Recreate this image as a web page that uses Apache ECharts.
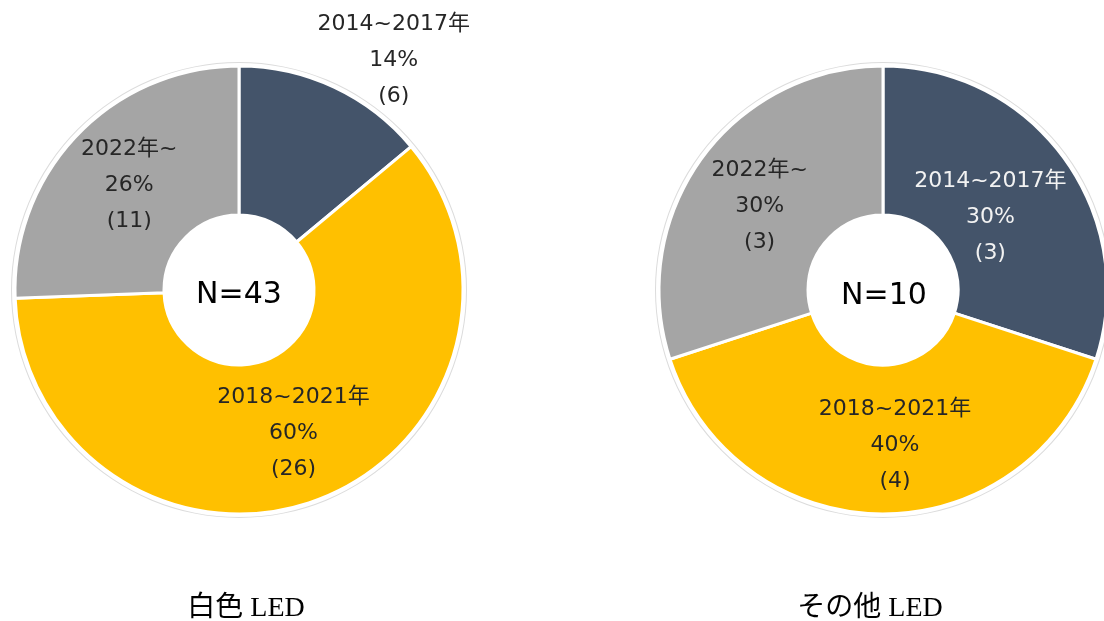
<!DOCTYPE html>
<html>
<head>
<meta charset="utf-8">
<script src="https://cdn.jsdelivr.net/npm/echarts@6/dist/echarts.min.js"></script>
<style>
  html, body { margin: 0; padding: 0; background: #fff; }
  #main { width: 1104px; height: 621px; }
</style>
</head>
<body>
<div id="main"></div>
<script>
// 区分
const periods = ['2014~2017年', '2018~2021年', '2022年~'];
const colors = ['#44546A', '#FFC000', '#A5A5A5'];

// 白色 LED
const whiteCounts = [6, 26, 11];
const whitePct = [14, 60, 26];
const whiteTotal = 43;

// その他 LED
const otherCounts = [3, 4, 3];
const otherPct = [30, 40, 30];
const otherTotal = 10;

const chartNames = ['白色 LED', 'その他 LED'];

const labelFont = 'DejaVu Sans, "Noto Sans CJK JP", sans-serif';
const titleFont = '"Liberation Serif", "Noto Sans CJK JP", serif';

function buildData(counts, pct, labelTweaks) {
  return counts.map((c, i) => ({
    name: periods[i],
    value: c,
    pct: pct[i],
    itemStyle: { color: colors[i] },
    label: Object.assign({
      color: i === 0 ? '#f2f2f2' : '#262626'
    }, labelTweaks[i] || {})
  }));
}

function donut(center, data) {
  return [
    {
      // 外側の薄い枠線
      type: 'pie',
      silent: true,
      center: center,
      radius: [227, 228],
      label: { show: false },
      itemStyle: { color: '#dcdcdc' },
      data: [1],
      z: 1
    },
    {
      type: 'pie',
      center: center,
      radius: [75, 224],
      startAngle: 90,
      clockwise: true,
      avoidLabelOverlap: false,
      itemStyle: { borderColor: '#fff', borderWidth: 3 },
      label: {
        show: true,
        position: 'inside',
        fontFamily: labelFont,
        fontSize: 22,
        lineHeight: 36,
        formatter: p => p.name + '\n' + p.data.pct + '%\n(' + p.value + ')'
      },
      labelLine: { show: false },
      emphasis: { disabled: true },
      data: data,
      z: 2
    }
  ];
}

function centerText(x, y, txt, font, size) {
  return {
    type: 'text',
    x: x, y: y,
    z: 10,
    style: {
      text: txt, fill: '#000', font: size + 'px ' + font,
      align: 'center', verticalAlign: 'middle'
    }
  };
}

const myChart = echarts.init(document.getElementById('main'));

const leftData = buildData(whiteCounts, whitePct, [
  { color: '#262626', offset: [90, -92] },
  { offset: [0, 1] },
  { offset: [0, 1] }
]);
const rightData = buildData(otherCounts, otherPct, [
  { offset: [-16, 17] },
  { offset: [12, 3] },
  { offset: [0, 6] }
]);

myChart.setOption({
  animation: false,
  graphic: [
    centerText(239, 295, 'N=' + whiteTotal, labelFont, 30),
    centerText(884, 296, 'N=' + otherTotal, labelFont, 30),
    centerText(246, 609, chartNames[0], titleFont, 28),
    centerText(870, 609, chartNames[1], titleFont, 28)
  ],
  series: [].concat(
    donut([239, 290], leftData),
    donut([883, 290], rightData)
  )
});
</script>
</body>
</html>
